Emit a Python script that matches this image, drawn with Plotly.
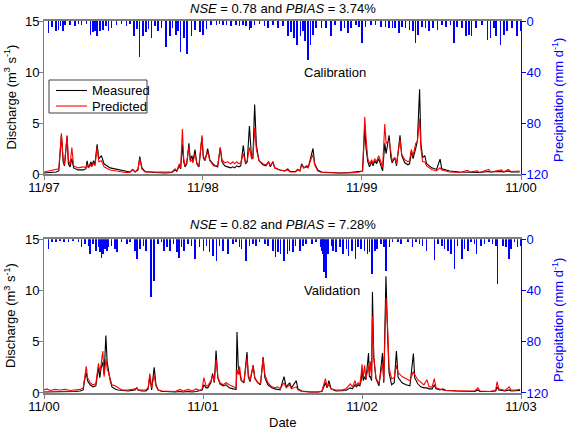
import pandas as pd
import plotly.graph_objects as go

# ---------------- Calibration period (days since 1997-11-01) ----------------
cal_start = "1997-11-01"
cal_days = [0, 14, 28, 34, 40, 44, 47, 53, 56, 60, 64, 68, 78, 90, 96, 99, 102, 108, 110, 114,
            117, 122, 126, 132, 138, 152, 174, 186, 197, 204, 209, 216, 220, 225, 232, 255, 278,
            294, 301, 305, 311, 314, 318, 321, 324, 328, 333, 336, 340, 342, 347, 351, 356, 363,
            366, 370, 376, 381, 390, 399, 405, 409, 415, 422, 429, 434, 438, 443, 448, 452, 458,
            463, 467, 472, 477, 480, 484, 488, 494, 503, 510, 516, 520, 526, 530, 542, 553, 560,
            565, 578, 583, 588, 592, 597, 604, 607, 613, 618, 622, 629, 638, 657, 679, 702, 721,
            732, 737, 740, 744, 748, 753, 756, 760, 764, 769, 774, 778, 783, 786, 793, 797, 800,
            806, 810, 818, 822, 829, 836, 840, 844, 848, 854, 858, 863, 866, 870, 875, 879, 891,
            902, 910, 914, 932, 955, 973, 978, 996, 1000, 1022, 1026, 1051, 1056, 1067, 1072, 1093]
cal_measured = [0.1, 0.15, 0.2, 0.3, 3.8, 1.2, 0.8, 3.7, 1.0, 0.7, 1.5, 0.6, 0.4, 0.4, 0.5, 1.3,
                0.6, 1.2, 0.8, 1.3, 0.9, 2.9, 1.5, 1.8, 1.0, 0.6, 0.4, 0.25, 0.2, 0.45, 0.2, 0.4,
                1.7, 0.6, 0.25, 0.15, 0.1, 0.15, 0.4, 0.25, 0.8, 0.5, 2.9, 1.2, 0.7, 1.0, 3.0, 1.4,
                1.8, 1.2, 2.4, 1.0, 0.7, 3.6, 1.6, 1.3, 2.5, 1.4, 0.9, 0.7, 2.6, 1.2, 0.8, 0.7, 0.6,
                0.7, 0.6, 0.8, 0.7, 0.8, 2.8, 1.0, 1.2, 4.7, 1.5, 1.6, 6.8, 2.8, 1.3, 0.9, 0.8, 1.2,
                0.7, 1.2, 0.6, 0.4, 0.3, 0.5, 0.25, 0.25, 0.45, 0.3, 1.0, 0.6, 0.8, 0.6, 1.5, 2.5,
                1.0, 0.4, 0.2, 0.15, 0.1, 0.15, 0.2, 0.3, 4.6, 2.5, 1.2, 0.7, 1.2, 0.8, 1.3, 1.0,
                1.5, 0.8, 0.3, 3.0, 2.0, 3.8, 1.6, 1.1, 1.6, 0.8, 3.8, 1.8, 1.1, 0.9, 1.0, 2.2, 1.5,
                2.5, 3.3, 8.3, 3.0, 1.6, 1.8, 1.0, 0.6, 0.45, 1.45, 0.5, 0.3, 0.2, 0.2, 0.2, 0.2,
                0.15, 0.25, 0.2, 0.25, 0.2, 0.3, 0.2, 0.2]
cal_predicted = [0.2, 0.3, 0.4, 0.5, 4.0, 1.5, 0.9, 3.8, 1.4, 0.9, 2.6, 0.8, 0.6, 0.7, 0.6, 1.0,
                 0.6, 0.9, 0.7, 1.1, 0.8, 2.6, 1.2, 1.3, 0.7, 0.4, 0.25, 0.15, 0.15, 0.4, 0.2, 0.5,
                 1.5, 0.5, 0.2, 0.2, 0.15, 0.2, 0.5, 0.3, 1.0, 0.6, 4.4, 1.5, 0.8, 1.1, 2.7, 1.2,
                 1.4, 1.1, 2.0, 1.1, 0.8, 3.8, 1.8, 1.4, 2.2, 1.3, 0.8, 0.8, 2.6, 1.4, 1.1, 1.2, 1.0,
                 1.2, 1.0, 1.2, 1.0, 1.1, 2.0, 1.1, 1.3, 2.6, 1.5, 1.5, 4.5, 2.4, 1.3, 1.0, 0.9, 1.2,
                 0.8, 1.2, 0.6, 0.4, 0.3, 0.4, 0.2, 0.2, 0.4, 0.3, 0.9, 0.6, 0.7, 0.6, 1.4, 1.9,
                 0.9, 0.3, 0.15, 0.1, 0.1, 0.1, 0.15, 0.3, 5.6, 3.5, 1.5, 1.0, 1.4, 1.0, 1.5, 1.2,
                 1.8, 1.2, 0.6, 4.9, 3.0, 3.3, 1.8, 1.3, 1.6, 1.0, 3.4, 1.9, 1.4, 1.2, 1.3, 2.4, 1.8,
                 3.0, 3.2, 5.4, 2.5, 1.2, 1.2, 0.8, 0.45, 0.3, 0.6, 0.4, 0.2, 0.15, 0.35, 0.2, 0.3,
                 0.15, 0.45, 0.2, 0.4, 0.2, 0.45, 0.25, 0.3]
cal_p_days = [10, 18, 28, 33, 38, 43, 48, 60, 71, 79, 86, 98, 107, 112, 117, 122, 129, 136, 142,
              148, 155, 167, 178, 190, 197, 207, 213, 219, 228, 234, 240, 247, 255, 262, 270, 280,
              289, 295, 303, 308, 314, 321, 329, 339, 347, 358, 366, 373, 384, 396, 403, 411, 419,
              430, 441, 449, 457, 464, 472, 476, 484, 495, 507, 514, 526, 537, 549, 560, 568, 575,
              581, 589, 595, 600, 607, 612, 618, 625, 638, 648, 660, 669, 683, 690, 698, 705, 717,
              724, 730, 739, 751, 762, 774, 785, 793, 801, 807, 816, 823, 831, 840, 848, 854, 860,
              869, 877, 884, 894, 904, 914, 923, 934, 942, 949, 961, 970, 976, 982, 992, 1007,
              1019, 1026, 1034, 1038, 1049, 1057, 1064, 1076, 1087, 1095]
cal_p_mm = [9.5, 5, 8, 7, 4, 8, 3.5, 3, 4, 2.5, 3.5, 2, 11, 9, 7.5, 12, 8, 7, 4, 8, 5.5, 3, 2, 4,
            2.5, 12, 6, 28.5, 12, 9, 6, 13, 4, 8, 5.5, 20, 12, 5.5, 11, 8, 24.5, 13, 25.5, 12, 7,
            9, 10.7, 6, 3, 3, 2.5, 3, 3, 4, 3, 4, 3, 4, 7, 5.5, 3, 2.5, 4, 5.5, 3, 5.5, 4, 12, 9,
            13, 18.6, 12, 8, 16, 30.6, 18.6, 10.7, 5.5, 5.5, 5.5, 12, 3, 8, 5.5, 9.4, 5.5, 3, 4.5,
            17, 4.5, 3, 3, 4.5, 4.5, 5.5, 5.5, 5.5, 9.4, 4.5, 5.5, 6.8, 8, 17.3, 10.7, 4.5, 5.5,
            8, 5.5, 6.8, 3, 4.5, 3, 17.3, 4.5, 5.5, 12, 10.7, 12, 5.5, 3, 14.6, 13.3, 5.5, 12,
            18.6, 10.7, 8, 5.5, 12, 8]

# ---------------- Validation period (days since 2000-11-01) ----------------
val_start = "2000-11-01"
val_days = [0, 7, 14, 25, 37, 48, 60, 71, 83, 90, 93, 97, 100, 106, 112, 119, 125, 128, 131, 135,
            138, 142, 145, 148, 152, 156, 163, 170, 179, 193, 209, 213, 216, 225, 234, 239, 243,
            247, 253, 257, 262, 271, 280, 289, 301, 312, 319, 331, 340, 349, 358, 363, 367, 372,
            376, 383, 387, 391, 395, 399, 404, 411, 418, 425, 434, 441, 443, 446, 449, 453, 459,
            466, 469, 473, 480, 484, 491, 497, 503, 507, 514, 523, 530, 537, 542, 551, 556, 564,
            568, 579, 583, 592, 611, 629, 638, 646, 650, 654, 659, 670, 684, 693, 703, 708, 714,
            717, 721, 725, 728, 730, 733, 736, 739, 745, 747, 749, 752, 754, 757, 762, 769, 777,
            780, 785, 789, 792, 798, 804, 809, 813, 822, 831, 840, 848, 851, 858, 865, 872, 879,
            884, 891, 896, 900, 909, 915, 923, 946, 969, 989, 996, 1001, 1024, 1037, 1040, 1044,
            1058, 1068, 1072, 1083, 1093]
val_measured = [0.1, 0.1, 0.1, 0.15, 0.1, 0.15, 0.1, 0.15, 0.2, 0.3, 1.2, 2.0, 1.2, 0.8, 0.6,
                0.7, 2.5, 1.5, 2.4, 3.0, 1.8, 5.6, 3.0, 2.0, 1.2, 0.6, 0.4, 0.3, 0.25, 0.2, 0.3,
                0.5, 0.3, 0.2, 0.2, 0.4, 1.6, 0.3, 2.5, 0.8, 0.3, 0.15, 0.15, 0.1, 0.1, 0.15, 0.1,
                0.15, 0.1, 0.15, 0.2, 0.3, 0.8, 0.5, 0.5, 1.0, 1.9, 1.0, 4.15, 1.5, 0.9, 0.7, 0.8,
                0.5, 0.4, 0.35, 5.95, 2.5, 2.0, 1.2, 1.0, 4.0, 1.6, 1.1, 2.7, 1.4, 1.0, 0.8, 3.5,
                1.5, 0.8, 0.5, 0.4, 0.3, 0.3, 1.6, 0.6, 1.0, 0.5, 1.2, 0.4, 0.2, 0.1, 0.1, 0.15,
                1.0, 0.5, 1.2, 0.4, 0.2, 0.2, 0.25, 0.5, 0.4, 0.8, 0.6, 0.8, 0.7, 1.2, 2.2, 1.2,
                1.6, 1.3, 3.9, 1.6, 1.6, 1.2, 9.85, 3.5, 1.4, 0.7, 3.9, 1.0, 11.4, 5.5, 2.0, 0.8,
                1.0, 4.1, 1.5, 1.0, 0.8, 0.7, 3.85, 1.5, 0.9, 0.6, 0.5, 0.5, 0.4, 0.4, 0.8, 0.4,
                0.3, 0.4, 0.25, 0.2, 0.15, 0.15, 0.3, 0.15, 0.15, 0.2, 0.6, 0.3, 0.2, 0.3, 0.2,
                0.2, 0.25]
val_predicted = [0.3, 0.4, 0.25, 0.35, 0.3, 0.35, 0.25, 0.3, 0.35, 0.5, 1.5, 2.6, 1.5, 1.0, 0.8,
                 0.9, 2.9, 2.0, 2.8, 4.1, 1.6, 3.3, 2.4, 1.9, 1.2, 0.8, 0.7, 0.5, 0.3, 0.3, 0.4,
                 0.5, 0.3, 0.3, 0.3, 0.5, 1.9, 0.5, 1.8, 0.7, 0.3, 0.2, 0.2, 0.2, 0.15, 0.35, 0.2,
                 0.35, 0.2, 0.4, 0.25, 0.4, 1.5, 0.7, 0.7, 1.2, 1.7, 1.1, 3.3, 1.6, 1.0, 0.8, 1.0,
                 0.8, 0.6, 0.5, 2.3, 1.8, 2.6, 1.2, 1.1, 3.4, 1.8, 1.2, 2.7, 1.5, 1.0, 0.9, 3.4,
                 1.8, 1.0, 0.6, 0.5, 0.6, 0.4, 1.0, 0.5, 0.8, 0.4, 0.6, 0.3, 0.15, 0.1, 0.1, 0.2,
                 1.4, 0.6, 0.8, 0.4, 0.3, 0.3, 0.4, 0.9, 0.6, 1.2, 0.7, 1.0, 0.8, 1.8, 2.8, 1.5,
                 2.7, 1.4, 2.6, 1.8, 3.1, 1.4, 7.5, 3.5, 1.5, 0.9, 2.9, 1.2, 9.3, 6.2, 2.5, 1.4,
                 1.5, 2.7, 2.0, 1.6, 1.4, 1.2, 2.1, 1.8, 1.3, 1.0, 0.8, 1.3, 0.6, 0.6, 1.4, 0.5,
                 0.35, 0.3, 0.25, 0.2, 0.2, 0.2, 0.5, 0.2, 0.15, 0.3, 1.1, 0.4, 0.25, 0.6, 0.3,
                 0.3, 0.35]
val_p_days = [10, 18, 28, 37, 46, 56, 67, 79, 86, 94, 102, 106, 113, 119, 125, 129, 132, 136, 140,
              144, 148, 155, 163, 168, 178, 190, 197, 209, 213, 220, 228, 234, 245, 253, 262, 270,
              275, 282, 289, 297, 306, 310, 316, 321, 331, 339, 347, 357, 366, 373, 380, 388, 396,
              403, 411, 422, 434, 441, 449, 453, 464, 472, 480, 487, 495, 507, 514, 526, 531, 537,
              543, 551, 559, 564, 572, 577, 587, 595, 602, 615, 625, 635, 638, 640, 643, 647, 652,
              660, 663, 671, 679, 686, 694, 699, 707, 715, 721, 728, 736, 743, 747, 753, 760, 764,
              774, 781, 785, 793, 800, 812, 820, 835, 846, 854, 862, 869, 878, 896, 904, 914, 919,
              927, 934, 942, 949, 960, 965, 973, 980, 988, 993, 1003, 1011, 1021, 1030, 1038, 1041,
              1053, 1060, 1067, 1072, 1080, 1087, 1095]
val_p_mm = [7.8, 2.6, 2.6, 1.3, 2.6, 2.1, 1.3, 2.6, 6.5, 3.9, 5.2, 11.8, 3.9, 9.1, 6.5, 10.4,
            15.1, 11.8, 7.8, 9.1, 6.5, 5.2, 7.8, 10.4, 2.6, 3.9, 2.6, 9.1, 15.7, 7.8, 5.2, 9.1,
            45.1, 32.6, 3.9, 2.6, 9.1, 6.5, 9.1, 3.9, 10.4, 15.1, 6.5, 9.1, 3.9, 5.2, 15.7, 6.5,
            9.2, 5.2, 10.4, 13, 17, 5.2, 9.1, 11.8, 3.9, 2.6, 6.5, 7.8, 17, 5.2, 3.9, 5.2, 2.6,
            3.9, 5.2, 9.1, 14.4, 10.4, 11.8, 17, 11.8, 9.1, 10.4, 5.2, 9.1, 5.2, 3.9, 3.9, 2.6,
            6.5, 9.1, 11.8, 26.1, 30.8, 11.8, 5.2, 9.1, 10.4, 6.5, 11.8, 7.8, 13, 9.1, 15.7, 6.5,
            7.8, 9.1, 11.8, 10.4, 27.4, 9.1, 7.8, 3.9, 6.5, 24.8, 6.5, 2.6, 2.6, 3.9, 2.6, 6.5,
            2.6, 3.9, 5.2, 9.1, 16.2, 3.9, 5.2, 7.8, 9.1, 11.8, 23.5, 5.2, 15.7, 7.8, 9.1, 2.6,
            3.9, 11.8, 5.2, 3.9, 2.6, 3.9, 5.2, 35.2, 5.2, 6.5, 15.7, 7.8, 2.6, 6.5, 5.2]

cal_ticks = ["1997-11-01", "1998-11-01", "1999-11-01", "2000-11-01"]
val_ticks = ["2000-11-01", "2001-11-01", "2002-11-01", "2003-11-01"]
cal_ticktext = ["11/97", "11/98", "11/99", "11/00"]
val_ticktext = ["11/00", "11/01", "11/02", "11/03"]
legend_names = ["Measured", "Predicted"]
legend_colors = ["black", "red"]


def to_dates(start, days):
    return pd.Timestamp(start) + pd.to_timedelta(days, unit="D")


FONT = "Liberation Sans, Arial, sans-serif"
GRAY = "#7f7f7f"
BLUE = "#0000ff"
DAY_MS = 86400000

fig = go.Figure()

panels = [
    (cal_start, cal_days, cal_measured, cal_predicted, cal_p_days, cal_p_mm, "x", "y", "y2"),
    (val_start, val_days, val_measured, val_predicted, val_p_days, val_p_mm, "x2", "y3", "y4"),
]
for start, d, meas, pred, pd_days, pmm, xa, ya, ya2 in panels:
    fig.add_trace(go.Bar(x=to_dates(start, pd_days), y=pmm, xaxis=xa, yaxis=ya2,
                         marker=dict(color=BLUE, line=dict(width=0)), width=1.4 * DAY_MS,
                         showlegend=False, name="Precipitation"))
    fig.add_trace(go.Scatter(x=to_dates(start, d), y=meas, xaxis=xa, yaxis=ya, mode="lines",
                             line=dict(color=legend_colors[0], width=1.1), name=legend_names[0],
                             showlegend=False))
    fig.add_trace(go.Scatter(x=to_dates(start, d), y=pred, xaxis=xa, yaxis=ya, mode="lines",
                             line=dict(color=legend_colors[1], width=1.1), name=legend_names[1],
                             showlegend=False))

W, H = 567, 429
ML, MR, MT, MB = 44, 46, 21, 36
top_dom = [0.5887, 1.0]
bot_dom = [0.0, 0.4132]

xcommon = dict(showline=True, linecolor=GRAY, linewidth=1.5, mirror=True, ticks="outside",
               ticklen=4, tickcolor=GRAY, showgrid=False, zeroline=False, ticklabelstandoff=-3,
               tickfont=dict(size=13, color="black", family=FONT))
ycommon = dict(range=[0, 15], tickvals=[0, 5, 10, 15], showline=True, linecolor=GRAY, linewidth=1,
               ticks="outside", ticklen=4, tickcolor=GRAY, showgrid=False, zeroline=False,
               ticklabelstandoff=-3, tickfont=dict(size=13, color="black", family=FONT))
y2common = dict(range=[120, 0], tickvals=[0, 40, 80, 120], side="right", showline=True,
                linecolor=BLUE, linewidth=1, ticks="outside", ticklen=4, tickcolor=BLUE,
                showgrid=False, zeroline=False, ticklabelstandoff=-2,
                tickfont=dict(size=13, color=BLUE, family=FONT))

fig.update_layout(
    width=W, height=H,
    margin=dict(l=ML, r=MR, t=MT, b=MB, autoexpand=False),
    paper_bgcolor="white", plot_bgcolor="white",
    font=dict(family=FONT, size=13, color="black"),
    bargap=0, showlegend=False,
    xaxis=dict(domain=[0, 1], anchor="y", type="date",
               range=[cal_ticks[0], cal_ticks[-1]], tickvals=cal_ticks, ticktext=cal_ticktext, **xcommon),
    yaxis=dict(domain=top_dom, anchor="x", **ycommon),
    yaxis2=dict(domain=top_dom, anchor="x", overlaying="y", **y2common),
    xaxis2=dict(domain=[0, 1], anchor="y3", type="date",
                range=[val_ticks[0], val_ticks[-1]], tickvals=val_ticks, ticktext=val_ticktext, **xcommon),
    yaxis3=dict(domain=bot_dom, anchor="x2", **ycommon),
    yaxis4=dict(domain=bot_dom, anchor="x2", overlaying="y3", **y2common),
)


# helpers: page-pixel position -> paper fraction (plot area spans x 44..521, y 21..393)
def px(xp):
    return (xp - 44) / 477.0


def py(yp):
    return (393 - yp) / 372.0


ann = [
    dict(text="<i>NSE</i> = 0.78 and <i>PBIAS</i> = 3.74%", x=0.5, y=py(8)),
    dict(text="<i>NSE</i> = 0.82 and <i>PBIAS</i> = 7.28%", x=0.5, y=py(225)),
    dict(text="Calibration", x=px(334.7), y=py(72.5)),
    dict(text="Validation", x=px(332), y=py(290)),
    dict(text="Date", x=px(282), y=py(422)),
    dict(text="Discharge (m<sup>3</sup> s<sup>-1</sup>)", x=px(10), y=py(97.5), textangle=-90),
    dict(text="Discharge (m<sup>3</sup> s<sup>-1</sup>)", x=px(10), y=py(316), textangle=-90),
    dict(text="Precipitation (mm d<sup>-1</sup>)", x=px(558), y=py(100), textangle=-90,
         font=dict(color=BLUE, size=13, family=FONT)),
    dict(text="Precipitation (mm d<sup>-1</sup>)", x=px(558), y=py(320), textangle=-90,
         font=dict(color=BLUE, size=13, family=FONT)),
]
# manual legend (box, line samples, labels)
fig.add_shape(type="rect", xref="paper", yref="paper", x0=px(49), x1=px(147), y0=py(113),
              y1=py(80), line=dict(color="#404040", width=1), fillcolor="white", layer="above")
for i, (name, col) in enumerate(zip(legend_names, legend_colors)):
    yy = 90.5 + 15.5 * i
    fig.add_shape(type="line", xref="paper", yref="paper", x0=px(56), x1=px(87), y0=py(yy),
                  y1=py(yy), line=dict(color=col, width=1.1), layer="above")
    ann.append(dict(text=name, x=px(90), y=py(yy), xanchor="left"))

for a in ann:
    a.setdefault("font", dict(size=13, color="black", family=FONT))
    a.setdefault("xanchor", "center")
    fig.add_annotation(xref="paper", yref="paper", showarrow=False, yanchor="middle", **a)

# remove the default 8px page margin so the 567x429 figure fills the window exactly
fig.write_html("out.html", config={"displayModeBar": False},
               post_script="document.body.style.margin='0px';document.body.style.padding='0px';")
